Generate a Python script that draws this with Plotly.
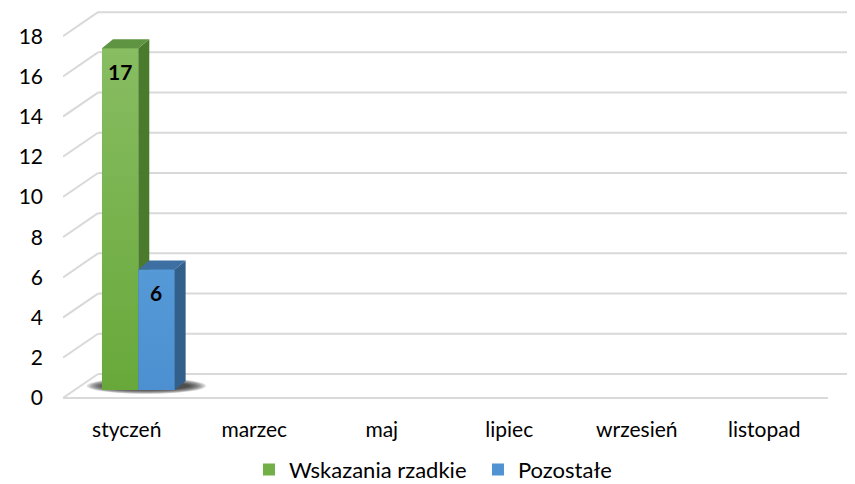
import plotly.graph_objects as go

# ---- data ----
categories = ["styczeń", "marzec", "maj", "lipiec", "wrzesień", "listopad"]
series_names = ["Wskazania rzadkie", "Pozostałe"]
wskazania_rzadkie = [17, None, None, None, None, None]
pozostale = [6, None, None, None, None, None]
y_ticks = [0, 2, 4, 6, 8, 10, 12, 14, 16, 18]

# ---- styling / geometry (pseudo 3D) ----
FONT = "Lato"
PX_X = 127.5   # pixels per category
PX_Y = 20.1    # pixels per value unit
WALL_DX = 35 / PX_X
WALL_DY = 24 / PX_Y
FRONT_F = 0.33
SHIFT_X = FRONT_F * WALL_DX
SHIFT_Y = FRONT_F * WALL_DY
BAR_DX = 11 / PX_X
BAR_DY = 9 / PX_Y
BAR_W = 0.285
W, H = 847, 476          # page body has an 8px margin
ML, MB = 55, 80
X0 = -0.5
X1 = X0 + (W - ML) / PX_X
Y0 = -0.3
Y1 = Y0 + (H - MB) / PX_Y

front_grad = [[[0, "#68a83a"], [1, "#88bd62"]], [[0, "#4c90d1"], [1, "#5599d7"]]]
front_cols = ["#72b047", "#4f93d3"]
side_cols = ["#4a7a2b", "#335f8b"]
top_cols = ["#5f9443", "#3d6fa3"]
grid_col = "#d9d9d9"

fig = go.Figure()

# gridlines (below everything): left diagonal + back wall line
x_back_end = len(categories) - 0.5 + WALL_DX
for v in y_ticks:
    fig.add_shape(type="line", layer="below", x0=X0, y0=v, x1=X0 + WALL_DX, y1=v + WALL_DY,
                  line=dict(color=grid_col, width=2))
    fig.add_shape(type="line", layer="below", x0=X0 + WALL_DX, y0=v + WALL_DY,
                  x1=x_back_end, y1=v + WALL_DY, line=dict(color=grid_col, width=2))
fig.add_shape(type="line", layer="below", x0=X0, y0=0, x1=len(categories) - 0.5, y1=0,
              line=dict(color=grid_col, width=2))

series = [wskazania_rzadkie, pozostale]
offsets = [-BAR_W + SHIFT_X, SHIFT_X]

# soft floor shadow under each bar group (below bars)
N_SH = 10
for i in range(len(categories)):
    if all(s[i] is None for s in series):
        continue
    gl = i + offsets[0]
    gr = i + offsets[-1] + BAR_W + BAR_DX
    for j in range(N_SH):
        t = j / (N_SH - 1)
        cx = (gl + gr) / 2 + 0.02
        cy = 0.6
        rx = (gr - gl) / 2 + 0.14 - 0.13 * t
        ry = 0.4 - 0.2 * t
        fig.add_shape(type="circle", layer="below", x0=cx - rx, x1=cx + rx,
                      y0=cy - ry, y1=cy + ry, line=dict(width=0),
                      fillcolor="rgba(20,20,20,0.13)")

# bars: front faces as real bars (legend), then painter-ordered 3D faces
for k, (name, vals) in enumerate(zip(series_names, series)):
    fig.add_trace(go.Bar(
        x=list(range(len(categories))), y=vals, base=SHIFT_Y,
        offset=offsets[k], width=BAR_W, name=name,
        marker=dict(color=front_cols[k], line=dict(width=0)),
        hoverinfo="skip", showlegend=True))

for i in range(len(categories)):
    for k, vals in enumerate(series):
        v = vals[i]
        if v is None:
            continue
        xl = i + offsets[k]
        xr = xl + BAR_W
        yb = SHIFT_Y
        yt = SHIFT_Y + v
        # front face overlay (keeps correct occlusion order)
        fig.add_trace(go.Scatter(
            x=[xl, xr, xr, xl, xl], y=[yb, yb, yt, yt, yb],
            mode="lines", line=dict(width=0), fill="toself",
            fillgradient=dict(type="vertical", colorscale=front_grad[k]),
            hoverinfo="skip", showlegend=False))
        # side face
        fig.add_trace(go.Scatter(
            x=[xr, xr, xr + BAR_DX, xr + BAR_DX, xr],
            y=[yb, yt, yt + BAR_DY, yb + BAR_DY, yb],
            mode="lines", line=dict(width=0), fill="toself", fillcolor=side_cols[k],
            hoverinfo="skip", showlegend=False))
        # top face
        fig.add_trace(go.Scatter(
            x=[xl, xr, xr + BAR_DX, xl + BAR_DX, xl],
            y=[yt, yt, yt + BAR_DY, yt + BAR_DY, yt],
            mode="lines", line=dict(width=0), fill="toself", fillcolor=top_cols[k],
            hoverinfo="skip", showlegend=False))
        fig.add_annotation(x=xl + BAR_W / 2, y=yt, yshift=-23, text=f"<b>{v}</b>",
                           showarrow=False, font=dict(family=FONT, size=21, color="#000000"))

fig.update_layout(
    width=W, height=H, autosize=False,
    margin=dict(l=ML, r=0, t=0, b=MB),
    plot_bgcolor="white", paper_bgcolor="white",
    font=dict(family=FONT, size=21, color="#000000"),
    bargap=0,
    xaxis=dict(range=[X0, X1], tickvals=list(range(len(categories))), ticktext=categories,
               showgrid=False, zeroline=False, showline=False, ticks="",
               ticklabelstandoff=11, tickfont=dict(family=FONT, size=21, color="#000000")),
    yaxis=dict(range=[Y0, Y1], tickvals=y_ticks, showgrid=False, zeroline=False,
               showline=False, ticks="", ticklabelstandoff=19,
               tickfont=dict(family=FONT, size=21, color="#000000")),
    legend=dict(orientation="h", xref="container", yref="container",
                x=0.2845, xanchor="left", y=0.030, yanchor="middle",
                entrywidth=184, entrywidthmode="pixels",
                font=dict(family=FONT, size=22, color="#000000"),
                bgcolor="rgba(0,0,0,0)"),
)

fig.write_html("out.html")
